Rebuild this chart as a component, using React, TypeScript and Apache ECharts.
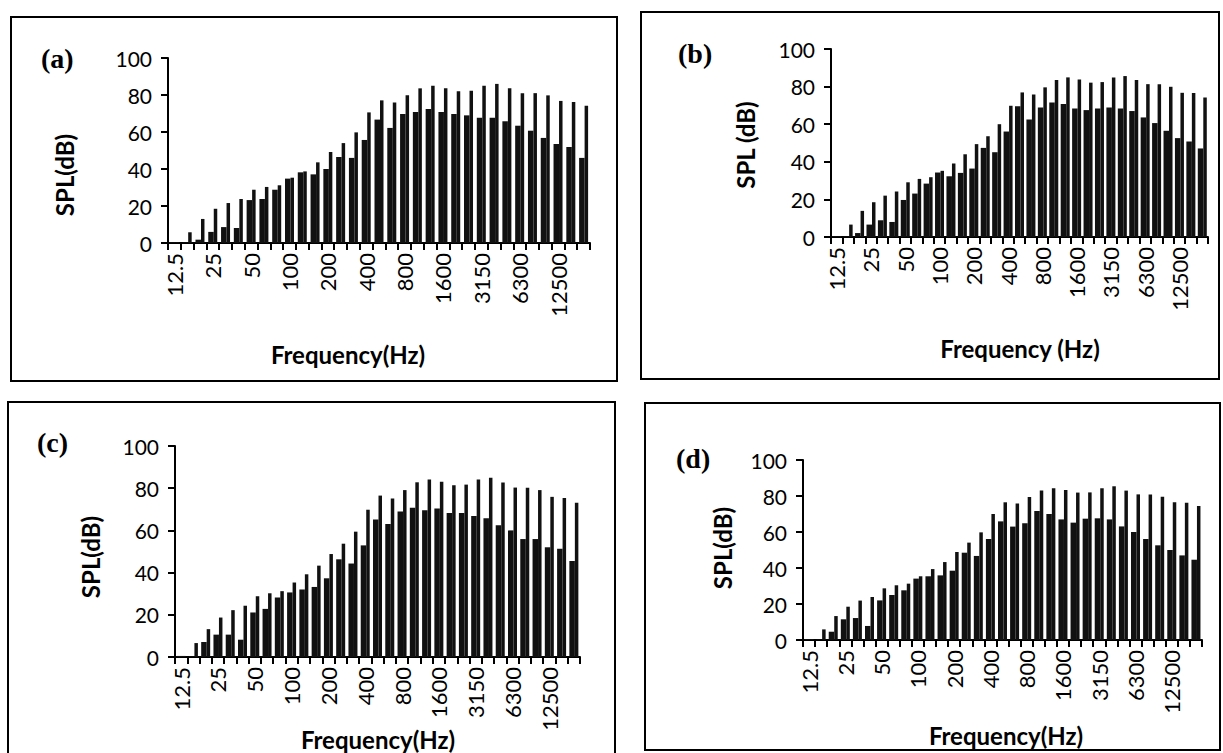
import React, { useEffect, useRef } from "react";
import * as echarts from "echarts";

const bands = ["12.5","16","20","25","31.5","40","50","63","80","100","125","160","200","250","315","400","500","630","800","1000","1250","1600","2000","2500","3150","4000","5000","6300","8000","10000","12500","16000","20000"];

const aLow = [0.4,0.3,1.8,6,8.6,8.1,23.2,23.8,28.8,34.8,38.2,37.1,40,46.5,46,55.7,66.7,62.2,69.7,70.8,72.4,70.8,69.7,69,67.7,67.7,65.8,63.4,60.7,56.8,53.5,51.9,46];
const aHigh = [0.4,5.8,13,18.5,21.6,23.8,28.8,30.3,31.2,35.3,38.7,43.6,49.2,54,59.8,70.6,77.1,75.9,79.8,83.6,85,83.6,82,82.3,85,86,83.6,81,81,79.8,76.8,76.2,74.2];

const bLow = [0.4,0.3,2.1,6.6,8.9,8,19.7,23.1,28.4,34.3,32.3,34.1,36.4,47.4,45.1,56.1,69.6,62.5,68.9,71.6,70.7,68.4,67.5,68.4,68.9,68.4,67,63.6,60.6,56.5,52.6,50.8,47.1];
const bHigh = [0.4,6.6,13.9,18.5,22,24.2,29.1,30.9,31.8,35.2,39.1,44,49.4,53.6,60,69.8,76.9,75.8,79.6,83.5,84.9,83.8,82.1,82.4,84.9,85.6,83.5,81.3,81.3,79.9,76.7,76.6,74.2];

const cLow = [0.5,0.3,7.1,10.6,10.6,8.2,21.1,22.8,28.2,30.6,32,33.2,37.3,46.3,44.3,52.9,65.2,63,69,70.7,69.6,70.4,68.2,68.2,66.8,65.7,62.4,60,55.9,55.9,52,51.3,45.5];
const cHigh = [0.5,6.6,13.2,18.7,22.2,24.3,28.8,30.2,31.2,35.3,39.2,43.3,48.8,53.7,59.4,69.8,76.5,75.1,79.1,82.8,84.1,83,81.4,81.7,84.1,85,82.7,80.3,80.2,79.1,75.9,75.3,73.1];

const dLow = [0.5,0.3,4.6,11.5,12.2,7.8,22,25,27.6,34.1,35.4,35.9,38.5,48.5,46.7,56.1,65.9,63,64.8,71.7,70,67,65.2,67.4,67.6,67,63.1,60,56.1,52.6,50,47,44.6];
const dHigh = [0.5,5.9,13.3,18.5,21.9,23.9,28.7,30.4,31.3,35.4,39.4,43.3,48.9,54.1,59.8,70,76.5,75.9,79.4,83.1,84.3,83.3,81.9,82,84.3,85.4,83,80.9,80.9,79.6,76.5,76.3,74.4];

const yTicks = [0, 20, 40, 60, 80, 100];
const panelLabels = ["(a)", "(b)", "(c)", "(d)"];
const yTitles = ["SPL(dB)", "SPL (dB)", "SPL(dB)", "SPL(dB)"];
const xTitles = ["Frequency(Hz)", "Frequency (Hz)", "Frequency(Hz)", "Frequency(Hz)"];

const panels = [
  { low: aLow, high: aHigh, grid: { left: 168, top: 58, width: 422, height: 185 }, box: [11, 17, 606, 364], lab: [41, 58], yt: [64, 175], xt: [348, 354] },
  { low: bLow, high: bHigh, grid: { left: 831, top: 49, width: 377, height: 188 }, box: [641, 12, 578, 367], lab: [678, 53], yt: [745, 145], xt: [1020, 348] },
  { low: cLow, high: cHigh, grid: { left: 175, top: 446, width: 405, height: 211 }, box: [8, 402, 607, 362], lab: [37, 442], yt: [90, 557], xt: [378, 739] },
  { low: dLow, high: dHigh, grid: { left: 803, top: 460, width: 399, height: 180 }, box: [645, 403, 575, 347], lab: [676, 458], yt: [722, 548], xt: [1006, 735] },
];

const FONT = "Lato";

export default function App() {
  const ref = useRef<HTMLDivElement>(null);
  useEffect(() => {
    if (!ref.current) return;
    const chart = echarts.init(ref.current, undefined, { renderer: "svg" });
    const grids: any[] = [];
    const xAxes: any[] = [];
    const yAxes: any[] = [];
    const series: any[] = [];
    const graphics: any[] = [];
    panels.forEach((p, i) => {
      grids.push({ ...p.grid, containLabel: false });
      xAxes.push({
        type: "category",
        gridIndex: i,
        data: bands,
        boundaryGap: true,
        axisLine: { show: true, lineStyle: { color: "#000", width: 2 } },
        axisTick: { show: true, interval: 0, length: 7, lineStyle: { color: "#000", width: 2 } },
        axisLabel: { interval: 2, rotate: 90, color: "#000", fontSize: 22, fontFamily: FONT, margin: 10 },
      });
      yAxes.push({
        type: "value",
        gridIndex: i,
        min: yTicks[0],
        max: yTicks[yTicks.length - 1],
        interval: 20,
        axisLine: { show: true, lineStyle: { color: "#000", width: 2 } },
        axisTick: { show: true, length: 7, lineStyle: { color: "#000", width: 2 } },
        splitLine: { show: false },
        axisLabel: { color: "#000", fontSize: 21, fontFamily: FONT, margin: 16 },
      });
      series.push({
        type: "bar",
        xAxisIndex: i,
        yAxisIndex: i,
        data: p.low,
        barWidth: 5.5,
        barGap: "0%",
        itemStyle: { color: "#111" },
      });
      series.push({
        type: "bar",
        xAxisIndex: i,
        yAxisIndex: i,
        data: p.high,
        barWidth: 3.5,
        barGap: "0%",
        itemStyle: { color: "#111" },
      });
      graphics.push({
        type: "rect",
        shape: { x: p.box[0], y: p.box[1], width: p.box[2], height: p.box[3] },
        style: { fill: "none", stroke: "#000", lineWidth: 2 },
        silent: true,
      });
      graphics.push({
        type: "text",
        x: p.lab[0],
        y: p.lab[1],
        style: { text: panelLabels[i], fontFamily: "Liberation Serif", fontWeight: "bold", fontSize: 28, fill: "#000", align: "left", verticalAlign: "middle" },
      });
      graphics.push({
        type: "text",
        x: p.yt[0],
        y: p.yt[1],
        rotation: Math.PI / 2,
        style: { text: yTitles[i], fontFamily: FONT, fontWeight: "bold", fontSize: 24, fill: "#000", align: "center", verticalAlign: "middle" },
      });
      graphics.push({
        type: "text",
        x: p.xt[0],
        y: p.xt[1],
        style: { text: xTitles[i], fontFamily: FONT, fontWeight: "bold", fontSize: 24, fill: "#000", align: "center", verticalAlign: "middle" },
      });
    });
    chart.setOption({
      animation: false,
      backgroundColor: "#fff",
      grid: grids,
      xAxis: xAxes,
      yAxis: yAxes,
      series,
      graphic: graphics,
    });
    return () => chart.dispose();
  }, []);
  return <div ref={ref} style={{ position: "fixed", left: 0, top: 0, width: 1223, height: 753 }} />;
}
